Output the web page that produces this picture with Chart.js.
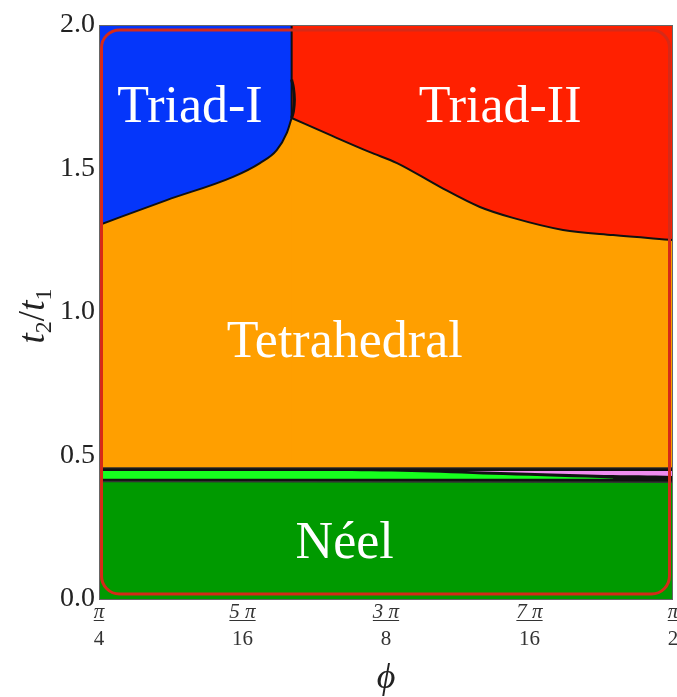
<!DOCTYPE html>
<html>
<head>
<meta charset="utf-8">
<script src="https://cdn.jsdelivr.net/npm/chart.js@4.4.1/dist/chart.umd.min.js"></script>
<style>
  body { margin: 0; background: #fff; }
</style>
</head>
<body>
<canvas id="phaseChart" width="677" height="697"></canvas>
<script>
// phi is given in units of pi
const phiTriadI = [0.25, 0.2795, 0.3084, 0.3201, 0.3274, 0.3318, 0.3339];
const tTriadI = [1.303, 1.390, 1.471, 1.519, 1.564, 1.624, 1.676];

const phiTriadII = [0.3339, 0.3506, 0.368, 0.3798, 0.3985, 0.4159, 0.4303, 0.4521, 0.4739, 0.5];
const tTriadII = [1.676, 1.617, 1.557, 1.519, 1.436, 1.366, 1.328, 1.286, 1.268, 1.251];

const phiWall = [0.3339, 0.3339];
const tWall = [1.676, 2.0];
const phiBulge = [0.3339, 0.3347, 0.3351, 0.3347, 0.3339];
const tBulge = [1.676, 1.70, 1.74, 1.78, 1.81];

const phiTetraBottom = [0.25, 0.5];
const tTetraBottom = [0.457, 0.457];

const phiGreen = [0.25, 0.356, 0.39, 0.426, 0.474];
const tGreen = [0.446, 0.446, 0.442, 0.432, 0.420];

const phiPink = [0.41, 0.44, 0.47, 0.5];
const tPink = [0.446, 0.439, 0.432, 0.429];

const phiNeel = [0.25, 0.5];
const tNeel = [0.409, 0.407];

const phiFull = [0.25, 0.5];
const tFull = [2.0, 2.0];

const yTicks = [0, 0.5, 1.0, 1.5, 2.0];
const xTickValues = [0.25, 0.3125, 0.375, 0.4375, 0.5];
const xTickNum = ['\u03c0', '5 \u03c0', '3 \u03c0', '7 \u03c0', '\u03c0'];
const xTickDen = ['4', '16', '8', '16', '2'];

const phaseNames = ['Triad-I', 'Triad-II', 'Tetrahedral', 'N\u00e9el'];
const phaseLabelPhi = [0.2896, 0.4247, 0.357, 0.357];
const phaseLabelT = [1.708, 1.708, 0.892, 0.192];

function pts(xs, ys) {
    return xs.map((x, i) => ({ x: x, y: ys[i] }));
}

const serif = '"Liberation Serif", "DejaVu Serif", serif';

const decorations = {
    id: 'decorations',
    afterDatasetsDraw(chart) {
        const ctx = chart.ctx;
        const a = chart.chartArea;
        const xs = chart.scales.x;
        const ys = chart.scales.y;
        ctx.save();

        // frame
        ctx.strokeStyle = '#666';
        ctx.lineWidth = 1;
        ctx.strokeRect(a.left + 0.5, a.top + 0.5, a.right - a.left - 1, a.bottom - a.top);

        // red rounded outline
        ctx.strokeStyle = '#d62a18';
        ctx.lineWidth = 3;
        ctx.beginPath();
        ctx.roundRect(a.left + 2.5, a.top + 5, a.right - a.left - 6, a.bottom - a.top - 10, 18);
        ctx.stroke();

        // phase names
        ctx.fillStyle = '#fff';
        ctx.font = '52px ' + serif;
        ctx.textAlign = 'center';
        ctx.textBaseline = 'middle';
        phaseNames.forEach((name, i) => {
            ctx.fillText(name, xs.getPixelForValue(phaseLabelPhi[i]), ys.getPixelForValue(phaseLabelT[i]));
        });

        // x tick fractions
        ctx.fillStyle = '#333';
        ctx.strokeStyle = '#333';
        ctx.lineWidth = 1;
        xTickValues.forEach((v, i) => {
            const px = xs.getPixelForValue(v);
            ctx.font = 'italic 21px ' + serif;
            ctx.textBaseline = 'alphabetic';
            const w = ctx.measureText(xTickNum[i]).width;
            ctx.fillText(xTickNum[i], px, a.bottom + 19);
            ctx.beginPath();
            ctx.moveTo(px - w / 2, a.bottom + 21.5);
            ctx.lineTo(px + w / 2, a.bottom + 21.5);
            ctx.stroke();
            ctx.font = '21px ' + serif;
            ctx.fillText(xTickDen[i], px, a.bottom + 46);
        });

        // x title
        ctx.font = 'italic 36px ' + serif;
        ctx.fillStyle = '#222';
        ctx.textBaseline = 'middle';
        ctx.fillText('\u03d5', (a.left + a.right) / 2, a.bottom + 80);

        // y title t2/t1
        ctx.translate(33, (a.top + a.bottom) / 2 + 4);
        ctx.rotate(-Math.PI / 2);
        ctx.textAlign = 'left';
        ctx.textBaseline = 'alphabetic';
        const parts = [['t', 'italic 37px '], ['2', '24px ', 7], ['/', '37px '], ['t', 'italic 37px '], ['1', '24px ', 7]];
        let total = 0;
        parts.forEach(p => { ctx.font = p[1] + serif; total += ctx.measureText(p[0]).width; });
        let cx = -total / 2;
        parts.forEach(p => {
            ctx.font = p[1] + serif;
            ctx.fillText(p[0], cx, 11 + (p[2] || 0));
            cx += ctx.measureText(p[0]).width;
        });
        ctx.restore();
    }
};

const blk = '#111';
const clear = 'rgba(0,0,0,0)';
const orange = '#ff9f00';

new Chart(document.getElementById('phaseChart').getContext('2d'), {
    type: 'line',
    data: {
        datasets: [
            { data: pts(phiBulge, tBulge), borderColor: blk, borderWidth: 3, fill: false, tension: 0.4 },
            { data: pts(phiWall, tWall), borderColor: blk, borderWidth: 2, fill: false },
            { data: pts(phiNeel, tNeel), borderColor: '#333', borderWidth: 1.5, backgroundColor: '#009a00', fill: 'origin' },
            { data: pts(phiPink, tPink), borderWidth: 0, borderColor: clear, backgroundColor: '#f08cf0', fill: { value: 0.446 }, tension: 0.3 },
            { data: pts(phiGreen, tGreen), borderWidth: 0, borderColor: clear, backgroundColor: '#16ff1e', fill: { value: 0.419 }, tension: 0.3 },
            { data: pts(phiTetraBottom, tTetraBottom), borderColor: '#333', borderWidth: 1, backgroundColor: blk, fill: { value: 0.405 } },
            { data: pts(phiTriadI, tTriadI), borderColor: blk, borderWidth: 2, backgroundColor: orange, fill: 'origin', cubicInterpolationMode: 'monotone' },
            { data: pts(phiTriadII, tTriadII), borderColor: blk, borderWidth: 2, backgroundColor: orange, fill: 'origin', cubicInterpolationMode: 'monotone' },
            { data: pts(phiTriadI, tTriadI), borderWidth: 0, borderColor: clear, backgroundColor: '#0536fa', fill: 'end', cubicInterpolationMode: 'monotone' },
            { data: pts(phiTriadII, tTriadII), borderWidth: 0, borderColor: clear, backgroundColor: '#ff2000', fill: 'end', cubicInterpolationMode: 'monotone' },
            { data: pts(phiFull, tFull), borderWidth: 0, borderColor: clear, backgroundColor: orange, fill: 'origin' }
        ]
    },
    options: {
        responsive: false,
        animation: false,
        elements: { point: { radius: 0 } },
        layout: { padding: { top: 25, right: 4, left: 0, bottom: 0 } },
        plugins: { legend: { display: false }, tooltip: { enabled: false } },
        scales: {
            x: {
                type: 'linear',
                min: 0.25,
                max: 0.5,
                ticks: { display: false },
                grid: { display: false },
                border: { display: false },
                afterFit: s => { s.height = 98; }
            },
            y: {
                min: 0,
                max: 2,
                afterBuildTicks: s => { s.ticks = yTicks.map(v => ({ value: v })); },
                ticks: {
                    callback: v => v.toFixed(1),
                    font: { family: serif, size: 28 },
                    color: '#222',
                    padding: 4
                },
                grid: { display: false, drawTicks: false },
                border: { display: false },
                afterFit: s => { s.width = 99; }
            }
        }
    },
    plugins: [decorations]
});
</script>
</body>
</html>
